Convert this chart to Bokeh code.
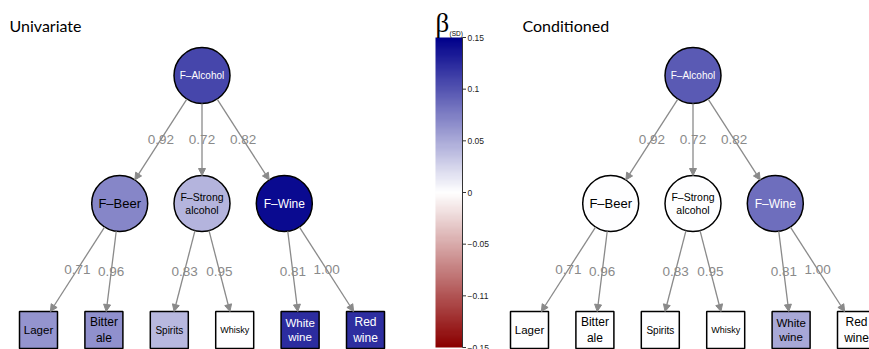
import numpy as np
from bokeh.plotting import figure
from bokeh.models import Range1d, ColumnDataSource, Arrow, NormalHead, LinearColorMapper
from bokeh.transform import linear_cmap
from bokeh.core.properties import value
from bokeh.embed import file_html
from bokeh.resources import INLINE

# ---------------- data ----------------
panel_titles = ["Univariate", "Conditioned"]
root_label = "F\u2013Alcohol"
latent_labels = ["F\u2013Beer", "F\u2013Strong\nalcohol", "F\u2013Wine"]
indicator_labels = ["Lager", "Bitter\nale", "Spirits", "Whisky", "White\nwine", "Red\nwine"]
indicator_parent = [0, 0, 1, 1, 2, 2]
root_loadings = [0.92, 0.72, 0.82]
indicator_loadings = [0.71, 0.96, 0.83, 0.95, 0.81, 1.00]

beta_root = [0.108, 0.097]                      # univariate, conditioned
beta_latent_uni = [0.071, 0.044, 0.144]
beta_latent_cond = [0.0, 0.0, 0.085]
beta_ind_uni = [0.063, 0.065, 0.042, 0.0, 0.124, 0.123]
beta_ind_cond = [0.0, 0.0, 0.0, 0.0, 0.051, 0.0]

cbar_ticks = [0.15, 0.1, 0.05, 0.0, -0.05, -0.1, -0.15]
cbar_labels = ["0.15", "0.1", "0.05", "0", "\u22120.05", "\u22120.11", "\u22120.15"]
beta_lim = 0.15

# ---------------- layout / style ----------------
W, H = 869, 349
panel_dx = [0, 491]
root_x, root_y = 201.5, 75
lat_y, lat_dx = 203, 82.3
ind_y, ind_dx = 329.5, 65.4
R = 28
BOX_W, BOX_H = 38, 37
GRAY = "#8a8a8a"
FONT = "Liberation Sans"

root_size = "10px"
latent_sizes = ["13px", "10.5px", "12px"]
ind_sizes = ["11.5px", "12px", "10px", "9px", "11.5px", "12px"]


def interp(c0, c1, t):
    return "#%02x%02x%02x" % tuple(int(round(a + (b - a) * t)) for a, b in zip(c0, c1))


N = 256
pal = []
for v in np.linspace(-beta_lim, beta_lim, N):
    t = min(abs(v) / beta_lim, 1.0)
    pal.append(interp((255, 255, 255), (139, 0, 0) if v < 0 else (0, 0, 139), t))
mapper = LinearColorMapper(palette=pal, low=-beta_lim, high=beta_lim)

p = figure(width=W, height=H, output_backend="svg", toolbar_location=None,
           x_range=Range1d(0, W), y_range=Range1d(H, 0),
           x_axis_location=None, y_axis_location=None, min_border=0,
           background_fill_color="white", border_fill_color="white")
p.outline_line_color = None
p.grid.visible = False

# colorbar scale: 0.15 at y 37, -0.15 at y 347
cb_top_y, cb_bot_y = 37, 347
per = 2 * beta_lim / (cb_bot_y - cb_top_y)
p.extra_y_ranges = {"cb": Range1d(start=-beta_lim - (H - cb_bot_y) * per,
                                  end=beta_lim + cb_top_y * per)}

edges = []
circ = dict(x=[], y=[], beta=[])
boxes = dict(x=[], y=[], beta=[])
texts = dict(x=[], y=[], t=[], size=[], color=[])


def add_text(x, y, t, size, b):
    texts["x"].append(x); texts["y"].append(y); texts["t"].append(t)
    texts["size"].append(size); texts["color"].append("white" if b >= 0.08 else "black")


for k, dx in enumerate(panel_dx):
    rx = root_x + dx
    lat_b = beta_latent_uni if k == 0 else beta_latent_cond
    ind_b = beta_ind_uni if k == 0 else beta_ind_cond
    circ["x"].append(rx); circ["y"].append(root_y); circ["beta"].append(beta_root[k])
    add_text(rx, root_y, root_label, root_size, beta_root[k])
    lat_x = [rx + (i - 1) * lat_dx for i in range(3)]
    for i, lx in enumerate(lat_x):
        circ["x"].append(lx); circ["y"].append(lat_y); circ["beta"].append(lat_b[i])
        add_text(lx, lat_y, latent_labels[i], latent_sizes[i], lat_b[i])
        d = np.array([lx - rx, lat_y - root_y]); d = d / np.linalg.norm(d)
        edges.append((rx + R * d[0], root_y + R * d[1], lx - R * d[0], lat_y - R * d[1],
                      "%.2f" % root_loadings[i]))
    for j in range(6):
        bx = rx + (j - 2.5) * ind_dx
        boxes["x"].append(bx); boxes["y"].append(ind_y); boxes["beta"].append(ind_b[j])
        add_text(bx, ind_y, indicator_labels[j], ind_sizes[j], ind_b[j])
        px = lat_x[indicator_parent[j]]
        d = np.array([bx - px, ind_y - lat_y]); d = d / np.linalg.norm(d)
        top = ind_y - BOX_H / 2
        s = (top - lat_y) / d[1]
        edges.append((px + R * d[0], lat_y + R * d[1], px + s * d[0], top,
                      "%.2f" % indicator_loadings[j]))

for (x0, y0, x1, y1, lab) in edges:
    p.add_layout(Arrow(x_start=x0, y_start=y0, x_end=x1, y_end=y1, line_color=GRAY, line_width=1.3,
                       end=NormalHead(size=7, fill_color=GRAY, line_color=GRAY, line_width=1)))

esrc = ColumnDataSource(dict(x=[(e[0] + e[2]) / 2 for e in edges], y=[(e[1] + e[3]) / 2 for e in edges],
                             t=[e[4] for e in edges]))
p.text("x", "y", text="t", source=esrc, text_align="center", text_baseline="middle",
       text_font=value(FONT), text_font_size="13.5px", text_color=GRAY)

cmap = linear_cmap("beta", pal, -beta_lim, beta_lim)
p.circle("x", "y", radius=R, source=ColumnDataSource(circ), fill_color=cmap,
         line_color="black", line_width=1.5)
p.rect("x", "y", width=BOX_W, height=BOX_H, width_units="screen", height_units="screen",
       source=ColumnDataSource(boxes), fill_color=cmap, line_color="black", line_width=1.5)
p.text("x", "y", text="t", source=ColumnDataSource(texts), text_align="center", text_baseline="middle",
       text_font=value(FONT), text_font_size="size", text_color="color", text_line_height=1.12)

p.text(x=[9, 522], y=[25, 25], text=panel_titles, text_font=value("Lato"), text_font_size="16px",
       text_color="black", text_align="left", text_baseline="alphabetic")

# colorbar
grad = np.linspace(-beta_lim, beta_lim, 300).reshape(-1, 1)
p.image(image=[grad], x=435, y=-beta_lim, dw=27, dh=2 * beta_lim, color_mapper=mapper, y_range_name="cb")
p.segment(x0=[462], y0=[-beta_lim], x1=[462], y1=[beta_lim], line_color="#333333", line_width=1,
          y_range_name="cb")
p.segment(x0=[462] * len(cbar_ticks), y0=cbar_ticks, x1=[465.5] * len(cbar_ticks), y1=cbar_ticks,
          line_color="#333333", line_width=1, y_range_name="cb")
p.text(x=[467] * len(cbar_ticks), y=cbar_ticks, text=cbar_labels, y_range_name="cb",
       text_font=value(FONT), text_font_size="8.5px", text_color="#222222",
       text_align="left", text_baseline="middle")
p.text(x=[435], y=[37], text=["\u03b2"], text_font=value("Liberation Serif"), text_font_size="27px",
       text_color="black", text_align="left", text_baseline="bottom")
p.text(x=[449], y=[33], text=["(SD)"], text_font=value(FONT), text_font_size="6.5px",
       text_color="black", text_align="left", text_baseline="alphabetic")

open("out.html", "w").write(file_html(p, INLINE))
